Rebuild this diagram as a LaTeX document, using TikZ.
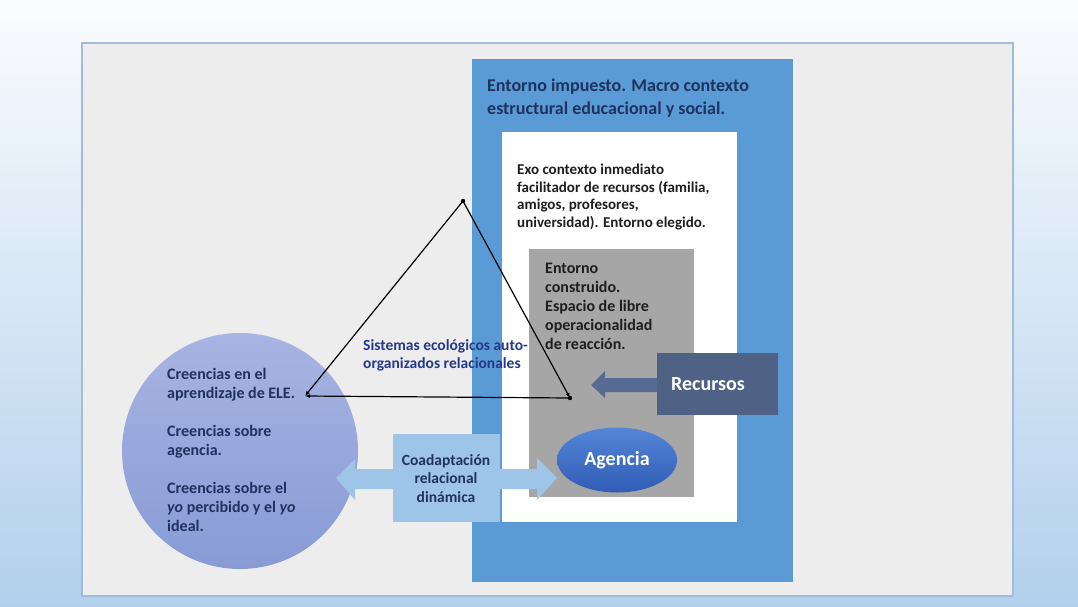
\documentclass[tikz,border=0pt]{standalone}
\usepackage{fontspec}
\setmainfont{Carlito}
\usetikzlibrary{arrows.meta,positioning,shapes.geometric}

\definecolor{fondoarriba}{RGB}{251,252,254}
\definecolor{fondoabajo}{RGB}{178,208,236}
\definecolor{panel}{RGB}{237,237,237}
\definecolor{borde}{RGB}{163,187,218}
\definecolor{macro}{RGB}{91,155,213}
\definecolor{gris}{RGB}{166,166,166}
\definecolor{recurso}{RGB}{79,98,134}
\definecolor{recursoflecha}{RGB}{86,107,146}
\definecolor{agenciaclaro}{RGB}{84,134,214}
\definecolor{agenciaoscuro}{RGB}{48,92,182}
\definecolor{creenciaclaro}{RGB}{168,180,226}
\definecolor{creenciaoscuro}{RGB}{136,155,214}
\definecolor{coadapt}{RGB}{158,196,231}
\definecolor{marino}{RGB}{31,50,96}
\definecolor{azultexto}{RGB}{38,56,140}
\definecolor{negro}{RGB}{30,30,30}

\begin{document}
\begin{tikzpicture}[x=1pt, y=-1pt,
    caja/.style={inner sep=0pt, outer sep=0pt, anchor=north west},
    texto/.style={anchor=base west, align=left, inner sep=0pt, font=\bfseries\fontsize{16}{19}\selectfont},
    lado/.style={line width=1.2pt, black}]
    \useasboundingbox (0,0) rectangle (1078,607);
    % Draw the background and the panel
    \shade[top color=fondoarriba, bottom color=fondoabajo] (0,0) rectangle (1078,607);
    \filldraw[fill=panel, draw=borde, line width=1.5pt] (82,43) rectangle (1013,596);

    % Draw the nested environments (text nodes sit on their last baseline)
    \node[caja, fill=macro, minimum width=321, minimum height=523] (macro) at (472,59) {};
    \node[caja, fill=white, minimum width=235, minimum height=390] (exo) at (502,132) {};
    \node[caja, fill=gris, minimum width=165, minimum height=248] (construido) at (529,249) {};
    \node[texto, text=marino, font=\bfseries\fontsize{18}{22}\selectfont] (titulo) at (487,114)
        {Entorno impuesto. Macro contexto\\estructural educacional y social.};
    \node[texto, text=negro, font=\bfseries\fontsize{15}{17.5}\selectfont] (exotexto) at (517,227)
        {Exo contexto inmediato\\facilitador de recursos (familia,\\amigos, profesores,\\universidad). Entorno elegido.};
    \node[texto, text=negro] (construidotexto) at (545,349)
        {Entorno\\construido.\\Espacio de libre\\operacionalidad\\de reacción.};

    % Draw the resources box and its arrow
    \node[caja, fill=recurso, minimum width=121, minimum height=62] (recursos) at (657,353) {};
    \node[text=white, font=\bfseries\fontsize{20}{24}\selectfont] (recursostexto) at (708,384) {Recursos};
    \fill[recursoflecha] (recursos.west |- 0,378) -- (605,378) -- (605,371) -- (591,385)
        -- (605,398) -- (605,392) -- (recursos.west |- 0,392) -- cycle;

    % Draw the beliefs circle
    \node[circle, minimum size=236, inner sep=0pt, top color=creenciaclaro, bottom color=creenciaoscuro] (creencias) at (240,451) {};
    \node[texto, text=marino] (cree1) at (167,398) {Creencias en el\\aprendizaje de ELE.};
    \node[texto, text=marino] (cree2) at (167,455) {Creencias sobre\\agencia.};
    \node[texto, text=marino] (cree3) at (167,531) {Creencias sobre el\\\textit{yo} percibido y el \textit{yo}\\ideal.};

    % Draw the agency ellipse
    \node[ellipse, minimum width=120, minimum height=65, inner sep=0pt, top color=agenciaclaro, bottom color=agenciaoscuro,
        text=white, font=\bfseries\fontsize{20}{24}\selectfont] (agencia) at (617,460) {Agencia};

    % Draw the co-adaptation double arrow
    \node[caja, fill=coadapt, minimum width=107, minimum height=88] (coad) at (393,434) {};
    \fill[coadapt] (coad.west |- 0,469) -- (355,469) -- (355,459) -- (336,478) -- (355,500)
        -- (355,489) -- (coad.west |- 0,489) -- cycle;
    \fill[coadapt] (coad.east |- 0,469) -- (537,469) -- (537,458) -- (557,478) -- (537,500)
        -- (537,489) -- (coad.east |- 0,489) -- cycle;
    \node[align=center, inner sep=0pt, text=marino, font=\bfseries\fontsize{15.5}{18.5}\selectfont,
        anchor=base] (coadtexto) at (446,502) {Coadaptación\\relacional\\dinámica};

    % Draw the triangle of relations
    \coordinate (cima) at (463,201);
    \coordinate (izq) at (305,396);
    \coordinate (der) at (570,398);
    \draw[lado, -{Latex[length=5pt,width=4pt]}] (cima) -- (izq);
    \draw[lado, -{Latex[length=5pt,width=4pt]}] (cima) -- (der);
    \draw[lado, -{Latex[length=5pt,width=4pt]}] (der) -- (izq);
    \fill (cima) circle (2.2pt);
    \fill (der) circle (2.2pt);
    \node[texto, text=azultexto, font=\bfseries\fontsize{15.5}{18}\selectfont] (sistemas) at (363,368)
        {Sistemas ecológicos auto-\\organizados relacionales};
\end{tikzpicture}
\end{document}
